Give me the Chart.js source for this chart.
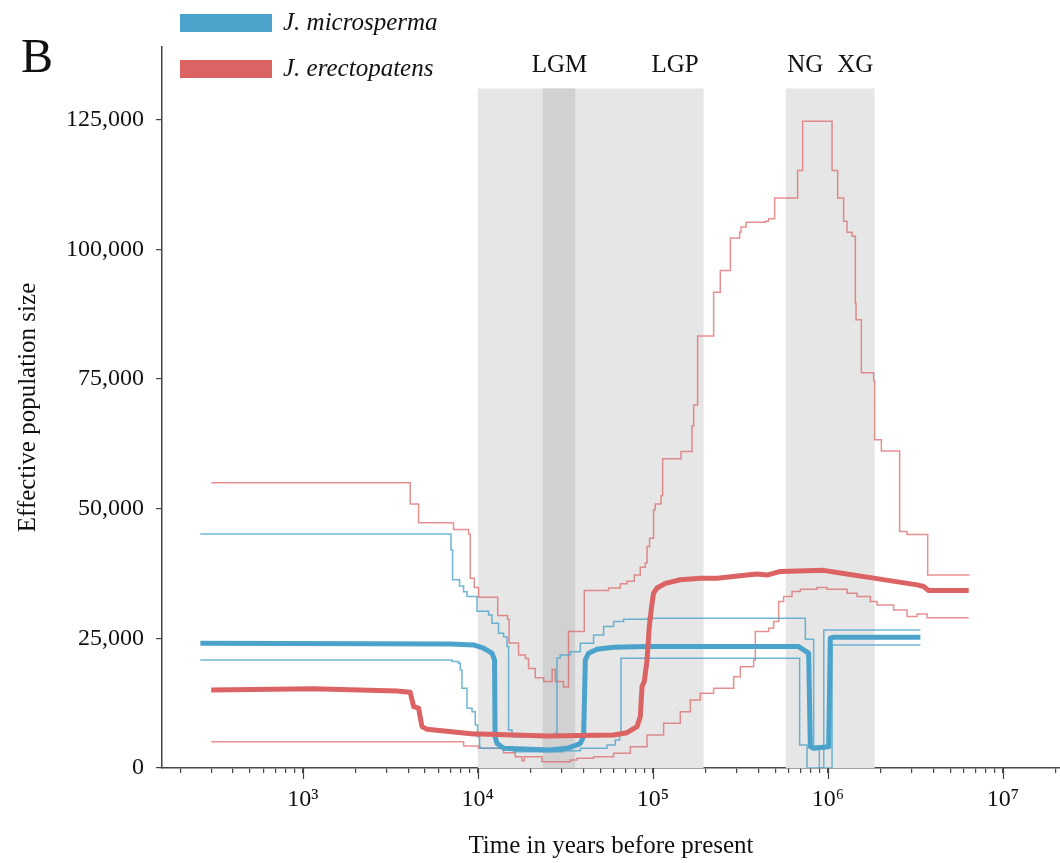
<!DOCTYPE html>
<html>
<head>
<meta charset="utf-8">
<script src="https://cdn.jsdelivr.net/npm/chart.js@4"></script>
<style>
  html, body { margin: 0; padding: 0; background: #fff; }
</style>
</head>
<body>
<canvas id="psmcChart" width="1060" height="863"></canvas>
<script>
// J. microsperma (blue) - median, upper and lower bounds
const microMedT = [260, 6965, 9460, 10800, 12050, 12470, 12550, 12870, 14040, 25960, 32340, 36900, 38530, 40240, 41150, 42970, 47980, 59700, 92670, 680900, 727300, 776900, 794300, 829600, 1011000, 1033000, 1079000, 3378000];
const microMedN = [24050, 23920, 23730, 23090, 22130, 20830, 6040, 4760, 3800, 3470, 3800, 4440, 4760, 6040, 20830, 22130, 22900, 23280, 23410, 23410, 22760, 22130, 4110, 3800, 4110, 25020, 25210, 25210];

const microUpT = [260, 7030, 7180, 7870, 8300, 8680, 9900, 11530, 12050, 13140, 14040, 14690, 15000, 15690, 27730, 28360, 29610, 33780, 38530, 45880, 52360, 59700, 68100, 92670, 743800, 829600, 894300, 948000, 3378000];
const microUpN = [45100, 42050, 36300, 35100, 34000, 33050, 30200, 29500, 27900, 26000, 25300, 23400, 7330, 6040, 6690, 21200, 21800, 22400, 24050, 25660, 27260, 28220, 28680, 28880, 24820, 4200, 0, 26620, 26620];

const microLowT = [260, 7120, 7770, 7940, 8120, 8680, 9270, 9680, 9980, 10240, 10335, 16020, 30930, 38530, 54750, 61050, 64600, 65800, 690000, 760600, 1057000, 3378000];
const microLowN = [20830, 20510, 20190, 18900, 15370, 11520, 10860, 8290, 6040, 4110, 3800, 3140, 3340, 3800, 4440, 5400, 6690, 21160, 4440, 0, 23730, 23730];

// J. erectopatens (red) - median, upper and lower bounds
const erectMedT = [300, 1150, 3450, 4110, 4300, 4590, 4800, 5130, 9460, 10300, 24900, 59700, 71200, 81200, 84800, 86800, 89400, 92700, 95500, 99000, 101000, 105700, 117900, 143600, 186800, 232800, 345300, 393900, 449400, 535400, 946300, 1179000, 1827000, 3233000, 3527000, 3767000, 6377000];
const erectMedN = [15050, 15300, 14850, 14600, 11830, 11520, 7970, 7460, 6560, 6560, 6170, 6370, 6810, 7970, 9900, 15700, 16700, 20800, 27300, 31800, 33700, 34700, 35600, 36300, 36600, 36600, 37200, 37400, 37200, 37900, 38100, 37600, 36600, 35300, 35000, 34200, 34200];

const erectUpT = [300, 4110, 4590, 7270, 8860, 9060, 9550, 10100, 13000, 14800, 15100, 17100, 18700, 19500, 21300, 23800, 26600, 27700, 30900, 33000, 40600, 55900, 65200, 71200, 78400, 84800, 90600, 92700, 95900, 101000, 103300, 111400, 113800, 144900, 167500, 171100, 180300, 222600, 243000, 277400, 313400, 319100, 340800, 439500, 458900, 496600, 672000, 717800, 1057000, 1138000, 1231000, 1287000, 1375000, 1436000, 1449000, 1554000, 1827000, 1851000, 2022000, 2572000, 2836000, 3719000, 6456000];
const erectUpN = [55000, 50900, 47300, 46000, 45100, 36600, 34800, 32900, 29400, 28700, 24100, 21800, 21100, 19200, 17400, 16700, 19000, 16700, 15600, 26300, 34200, 34700, 35500, 36000, 37200, 38700, 39500, 42700, 44300, 49800, 50900, 52500, 59600, 61000, 66000, 70000, 83300, 91700, 95900, 102200, 103300, 104300, 105200, 105400, 105900, 109900, 115200, 124700, 115200, 109900, 105400, 103300, 102500, 89600, 86400, 76200, 74700, 63300, 61100, 45600, 45000, 37200, 37200];

const erectLowT = [300, 8300, 10100, 14040, 16380, 17890, 18440, 23280, 33780, 36900, 45880, 59700, 74380, 92670, 115260, 143600, 163800, 186800, 222600, 289600, 316200, 376700, 385200, 458900, 490200, 523600, 559100, 624300, 696500, 867600, 989400, 1287000, 1468000, 1750000, 1910000, 2377000, 2836000, 3233000, 3690000, 6377000];
const erectLowN = [5070, 4240, 3800, 2950, 2180, 1410, 2180, 1220, 1540, 1860, 2180, 2840, 4110, 6370, 8620, 10860, 13120, 14410, 15370, 17610, 19540, 20830, 26300, 26950, 28220, 32080, 33050, 34010, 34470, 34780, 34470, 33700, 33050, 32080, 31440, 30480, 29190, 29710, 28990, 28990];

// shaded periods (years before present)
const bandStart = [10000, 575000];
const bandEnd = [195000, 1850000];
const lgmStart = 23500;
const lgmEnd = 36000;
const bandLabels = ['LGM', 'LGP', 'NG', 'XG'];
const bandLabelPos = [29300, 134000, 744000, 1436000];

// axis ticks
const xTickValues = [1e3, 1e4, 1e5, 1e6, 1e7];
const xTickLabels = ['10³', '10⁴', '10⁵', '10⁶', '10⁷'];
const yTickValues = [0, 25000, 50000, 75000, 100000, 125000];

const BLUE = '#4ba3cb';
const RED = '#db6363';
const BLUE_THIN = 'rgba(75,163,203,0.8)';
const RED_THIN = 'rgba(219,99,99,0.7)';
const SERIF = '"Liberation Serif", "Times New Roman", serif';

const pts = (t, n) => t.map((v, i) => ({ x: v, y: n[i] }));

const bandsPlugin = {
    id: 'bands',
    beforeDatasetsDraw(chart) {
        const { ctx, chartArea, scales } = chart;
        const x = scales.x, y = scales.y;
        const top = y.getPixelForValue(131000);
        const bottom = chartArea.bottom;
        ctx.save();
        ctx.fillStyle = '#e6e6e6';
        bandStart.forEach((s, i) => {
            const x0 = x.getPixelForValue(s), x1 = x.getPixelForValue(bandEnd[i]);
            ctx.fillRect(x0, top, x1 - x0, bottom - top);
        });
        ctx.fillStyle = '#d1d1d1';
        const l0 = x.getPixelForValue(lgmStart), l1 = x.getPixelForValue(lgmEnd);
        ctx.fillRect(l0, top, l1 - l0, bottom - top);
        ctx.restore();
    },
    afterDraw(chart) {
        const { ctx, scales } = chart;
        const x = scales.x;
        const axisY = chart.chartArea.bottom;
        ctx.save();
        // longer ticks at powers of ten
        ctx.strokeStyle = '#444';
        ctx.lineWidth = 1.2;
        xTickValues.forEach(v => {
            const px = Math.round(x.getPixelForValue(v)) + 0.5;
            ctx.beginPath();
            ctx.moveTo(px, axisY);
            ctx.lineTo(px, axisY + 11);
            ctx.stroke();
        });
        // period labels
        ctx.fillStyle = '#111';
        ctx.font = '25px ' + SERIF;
        ctx.textAlign = 'center';
        ctx.textBaseline = 'alphabetic';
        bandLabels.forEach((lab, i) => {
            ctx.fillText(lab, x.getPixelForValue(bandLabelPos[i]), 72);
        });
        // panel letter
        ctx.textAlign = 'left';
        ctx.font = '48px ' + SERIF;
        ctx.fillText('B', 21, 72);
        // legend
        const medians = [chart.data.datasets[0], chart.data.datasets[1]];
        medians.forEach((ds, i) => {
            const yy = 14 + i * 46;
            ctx.fillStyle = ds.borderColor;
            ctx.fillRect(180, yy, 92, 18);
            ctx.fillStyle = '#111';
            ctx.font = 'italic 25px ' + SERIF;
            ctx.textBaseline = 'middle';
            ctx.fillText(ds.label, 283, yy + 9);
        });
        ctx.restore();
    }
};

const thin = (label, data, color) => ({
    label, data,
    borderColor: color,
    borderWidth: 1.5,
    stepped: 'before',
    pointRadius: 0,
    fill: false,
    order: 3
});

const config = {
    type: 'line',
    data: {
        datasets: [
            { label: 'J. microsperma', data: pts(microMedT, microMedN), borderColor: BLUE, borderWidth: 5,
              pointRadius: 0, tension: 0, borderJoinStyle: 'round', order: 1 },
            { label: 'J. erectopatens', data: pts(erectMedT, erectMedN), borderColor: RED, borderWidth: 5,
              pointRadius: 0, tension: 0, borderJoinStyle: 'round', order: 0 },
            thin('J. microsperma upper', pts(microUpT, microUpN), BLUE_THIN),
            thin('J. microsperma lower', pts(microLowT, microLowN), BLUE_THIN),
            thin('J. erectopatens upper', pts(erectUpT, erectUpN), RED_THIN),
            thin('J. erectopatens lower', pts(erectLowT, erectLowN), RED_THIN)
        ]
    },
    options: {
        responsive: false,
        animation: false,
        layout: { padding: { top: 47, right: 0, left: 0, bottom: 0 } },
        plugins: {
            legend: { display: false },
            tooltip: { enabled: false }
        },
        scales: {
            x: {
                type: 'logarithmic',
                min: 157,
                max: 21200000,
                afterFit(scale) {
                    scale.height = 95;
                    scale.paddingLeft = 0;
                    scale.paddingRight = 0;
                },
                afterBuildTicks(scale) {
                    scale.ticks = scale.ticks.filter(t => {
                        const m = t.value / Math.pow(10, Math.floor(Math.log10(t.value) + 1e-9));
                        return Math.abs(m - Math.round(m)) < 1e-6 && t.value > 157 && t.value < 21200000;
                    });
                },
                grid: { drawOnChartArea: false, drawTicks: true, tickLength: 5, color: '#444', lineWidth: 1.2 },
                border: { display: true, color: '#444', width: 1.5 },
                ticks: {
                    autoSkip: false,
                    maxRotation: 0,
                    padding: 12,
                    color: '#111',
                    font: { family: SERIF, size: 24 },
                    callback(v) {
                        const i = xTickValues.findIndex(t => Math.abs(t - v) < 1e-6 * t);
                        return i >= 0 ? xTickLabels[i] : '';
                    }
                },
                title: {
                    display: true,
                    text: 'Time in years before present',
                    color: '#111',
                    font: { family: SERIF, size: 25 },
                    padding: { top: 0, bottom: 2 }
                }
            },
            y: {
                type: 'linear',
                min: 0,
                max: 139000,
                afterFit(scale) { scale.width = 162; },
                afterBuildTicks(scale) {
                    scale.ticks = yTickValues.map(v => ({ value: v }));
                },
                grid: { drawOnChartArea: false, drawTicks: true, tickLength: 6, color: '#444', lineWidth: 1.2 },
                border: { display: true, color: '#444', width: 1.5 },
                ticks: {
                    padding: 12,
                    color: '#111',
                    font: { family: SERIF, size: 24 },
                    callback: (v) => v.toLocaleString('en-US')
                },
                title: {
                    display: true,
                    text: 'Effective population size',
                    color: '#111',
                    font: { family: SERIF, size: 25 },
                    padding: { top: 13, bottom: 0 }
                }
            }
        }
    },
    plugins: [bandsPlugin]
};

const psmcChart = new Chart(document.getElementById('psmcChart'), config);
</script>
</body>
</html>
